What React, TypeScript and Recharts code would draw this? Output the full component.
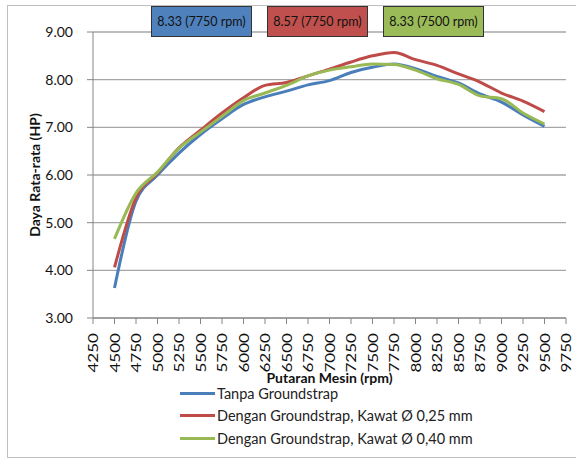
import React from 'react';
import { LineChart, Line, XAxis, YAxis, CartesianGrid } from 'recharts';

const rpm = [4500, 4750, 5000, 5250, 5500, 5750, 6000, 6250, 6500, 6750, 7000, 7250, 7500, 7750, 8000, 8250, 8500, 8750, 9000, 9250, 9500];
const tanpa = [3.63, 5.45, 6.0, 6.46, 6.85, 7.18, 7.48, 7.64, 7.76, 7.89, 7.98, 8.15, 8.26, 8.33, 8.23, 8.07, 7.93, 7.7, 7.53, 7.26, 7.02];
const kawat025 = [4.06, 5.52, 6.04, 6.57, 6.94, 7.3, 7.62, 7.88, 7.94, 8.08, 8.22, 8.37, 8.5, 8.57, 8.42, 8.3, 8.12, 7.95, 7.72, 7.55, 7.33];
const kawat040 = [4.66, 5.62, 6.06, 6.56, 6.9, 7.23, 7.56, 7.72, 7.88, 8.08, 8.2, 8.27, 8.33, 8.32, 8.2, 8.02, 7.9, 7.66, 7.6, 7.3, 7.07];

const xTicks = [4250, 4500, 4750, 5000, 5250, 5500, 5750, 6000, 6250, 6500, 6750, 7000, 7250, 7500, 7750, 8000, 8250, 8500, 8750, 9000, 9250, 9500, 9750];
const yTicks = [3, 4, 5, 6, 7, 8, 9];

const seriesNames = ['Tanpa Groundstrap', 'Dengan Groundstrap, Kawat Ø 0,25 mm', 'Dengan Groundstrap, Kawat Ø 0,40 mm'];
const seriesColors = ['#4a7ebb', '#be4b48', '#98b954'];
const peakLabels = ['8.33 (7750 rpm)', '8.57 (7750 rpm)', '8.33 (7500 rpm)'];
const labelFills = ['#4f81bd', '#c0504d', '#9bbb59'];

const data = rpm.map((r, i) => ({ rpm: r, a: tanpa[i], b: kawat025[i], c: kawat040[i] }));

const FONT = 'Lato, "Open Sans", sans-serif';

const XTick = ({ x, y, payload }: any) => (
    <g transform={`translate(${x},${y + 7}) rotate(-90)`}>
        <text
            textAnchor="end"
            dominantBaseline="central"
            fontSize={14}
            fill="#111"
            fontFamily={FONT}
            transform="scale(1.22,1)"
        >
            {payload.value}
        </text>
    </g>
);

export default function App() {
    const keys = ['a', 'b', 'c'];
    return (
        <div style={{ position: 'absolute', left: 0, top: 0, width: 576, height: 462, background: '#fff', fontFamily: FONT }}>
            <div style={{ position: 'absolute', left: 7, top: 5, width: 580, height: 453, border: '1px solid #bfbfbf', boxSizing: 'border-box' }} />
            <LineChart width={576} height={462} data={data} margin={{ top: 32, right: 10, left: 0, bottom: 0 }}>
                <CartesianGrid vertical={false} stroke="#a6a6a6" strokeWidth={1.3} />
                <XAxis
                    dataKey="rpm"
                    type="number"
                    domain={[4250, 9750]}
                    ticks={xTicks}
                    interval={0}
                    height={144}
                    tick={<XTick />}
                    tickSize={6}
                    stroke="#868686"
                    label={{ value: 'Putaran Mesin (rpm)', position: 'insideTop', dy: 50, fontSize: 14, fontWeight: 700, fill: '#111', fontFamily: FONT }}
                />
                <YAxis
                    type="number"
                    domain={[3, 9]}
                    ticks={yTicks}
                    width={93}
                    tickSize={6}
                    tickMargin={14}
                    stroke="#868686"
                    tick={{ fontSize: 14, fill: '#111', fontFamily: FONT }}
                    tickFormatter={(v: number) => v.toFixed(2)}
                    label={{ value: 'Daya Rata-rata (HP)', angle: -90, position: 'insideLeft', dx: 30, dy: 0, fontSize: 14, fontWeight: 700, fill: '#111', fontFamily: FONT, style: { textAnchor: 'middle' } }}
                />
                {keys.map((k, i) => (
                    <Line
                        key={k}
                        dataKey={k}
                        type="monotone"
                        stroke={seriesColors[i]}
                        strokeWidth={3}
                        dot={false}
                        isAnimationActive={false}
                    />
                ))}
            </LineChart>
            {peakLabels.map((t, i) => (
                <div
                    key={t}
                    style={{
                        position: 'absolute',
                        left: 151 + i * 116,
                        top: 6,
                        width: 101,
                        height: 31,
                        background: labelFills[i],
                        border: '1px solid #333',
                        boxSizing: 'border-box',
                        fontSize: 12.5,
                        color: '#111',
                        display: 'flex',
                        alignItems: 'center',
                        justifyContent: 'center',
                        whiteSpace: 'nowrap',
                    }}
                >
                    {t}
                </div>
            ))}
            <div style={{ position: 'absolute', left: 180, top: 382 }}>
                {seriesNames.map((n, i) => (
                    <div key={n} style={{ display: 'flex', alignItems: 'center', height: 22.5 }}>
                        <div style={{ width: 35, height: 3, background: seriesColors[i], marginRight: 2 }} />
                        <span style={{ fontSize: 14.5, color: '#222', whiteSpace: 'nowrap' }}>{n}</span>
                    </div>
                ))}
            </div>
        </div>
    );
}
